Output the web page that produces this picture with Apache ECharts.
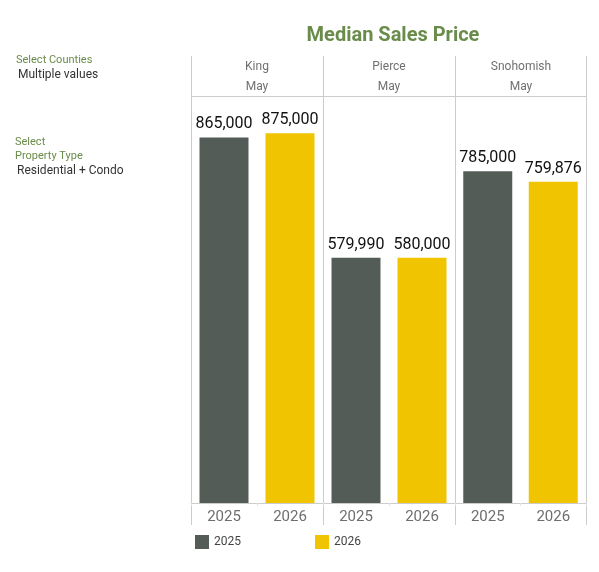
<!DOCTYPE html>
<html><head><meta charset="utf-8">
<script src="https://cdn.jsdelivr.net/npm/echarts@6/dist/echarts.min.js"></script>
<style>html,body{margin:0;padding:0;background:#fff}#c{width:599px;height:572px}</style>
</head><body><div id="c"></div>
<script>
const counties = ['King', 'Pierce', 'Snohomish'];
const month = 'May';
const years = ['2025', '2026'];
const values2025 = [865000, 579990, 785000];
const values2026 = [875000, 580000, 759876];

const colors = {'2025': '#545c58', '2026': '#f0c400'};
const panelLeft = 191, panelW = 132;
const grids = [], xAxes = [], yAxes = [], series = [];
counties.forEach((c, i) => {
  const left = panelLeft + panelW * i;
  grids.push({left: left, width: i === 2 ? 131 : panelW, top: 96, height: 407, containLabel: false});
  xAxes.push({type: 'category', gridIndex: i, data: years,
    axisLine: {lineStyle: {color: '#cccccc', width: 1}},
    axisTick: {show: true, length: 3, lineStyle: {color: '#e4e4e4'}},
    axisLabel: {color: '#6e6e6e', fontSize: 15, fontFamily: 'Roboto', margin: 7}});
  yAxes.push({type: 'value', gridIndex: i, min: 0, max: 963000, show: false, splitLine: {show: false}});
  [values2025, values2026].forEach((vals, k) => {
    const d = k === 0 ? [vals[i], '-'] : ['-', vals[i]];
    series.push({type: 'bar', name: years[k], xAxisIndex: i, yAxisIndex: i, stack: 's' + i,
      data: d, barWidth: 49, itemStyle: {color: colors[years[k]]},
      label: {show: true, position: 'top', distance: 5, color: '#111', fontSize: 16, fontFamily: 'Roboto',
        formatter: p => Number(p.value).toLocaleString('en-US')}});
  });
});
const hdr = [];
counties.forEach((c, i) => {
  const cx = panelLeft + panelW * i + panelW / 2;
  hdr.push({type: 'text', x: cx, y: 67, style: {text: c, textAlign: 'center', textVerticalAlign: 'middle', fill: '#707070', font: '12px Roboto'}});
  hdr.push({type: 'text', x: cx, y: 87, style: {text: month, textAlign: 'center', textVerticalAlign: 'middle', fill: '#707070', font: '12px Roboto'}});
});
const frame = [];
[191, 323, 455, 586].forEach(x => frame.push({type: 'line', shape: {x1: x + 0.5, y1: 56, x2: x + 0.5, y2: 525}, style: {stroke: '#cccccc', lineWidth: 1}}));
frame.push({type: 'line', shape: {x1: 191, y1: 96.5, x2: 586, y2: 96.5}, style: {stroke: '#cccccc', lineWidth: 1}});
const side = [
  {type: 'text', x: 16, y: 60, style: {text: 'Select Counties', fill: '#6a8c4a', font: '11px Roboto', textVerticalAlign: 'middle'}},
  {type: 'text', x: 18, y: 75, style: {text: 'Multiple values', fill: '#333', font: '12px Roboto', textVerticalAlign: 'middle'}},
  {type: 'text', x: 15, y: 142, style: {text: 'Select', fill: '#6a8c4a', font: '11px Roboto', textVerticalAlign: 'middle'}},
  {type: 'text', x: 15, y: 156, style: {text: 'Property Type', fill: '#6a8c4a', font: '11px Roboto', textVerticalAlign: 'middle'}},
  {type: 'text', x: 17, y: 171, style: {text: 'Residential + Condo', fill: '#333', font: '12px Roboto', textVerticalAlign: 'middle'}}
];

const chart = echarts.init(document.getElementById('c'), null, {renderer: 'canvas'});
chart.setOption({
  animation: false,
  backgroundColor: '#fff',
  title: {text: 'Median Sales Price', left: 388, top: 21, textAlign: 'center',
    textStyle: {color: '#6a8c4a', fontSize: 20, fontWeight: 'bold', fontFamily: 'Roboto'}},
  legend: [
    {data: ['2025'], left: 190, top: 530, itemWidth: 14, itemHeight: 14, itemGap: 5, icon: 'rect',
      textStyle: {color: '#444', fontSize: 12, fontFamily: 'Roboto'}, selectedMode: false},
    {data: ['2026'], left: 310, top: 530, itemWidth: 14, itemHeight: 14, itemGap: 5, icon: 'rect',
      textStyle: {color: '#444', fontSize: 12, fontFamily: 'Roboto'}, selectedMode: false}
  ],
  grid: grids, xAxis: xAxes, yAxis: yAxes, series: series,
  graphic: frame.concat(hdr, side)
});
</script></body></html>
